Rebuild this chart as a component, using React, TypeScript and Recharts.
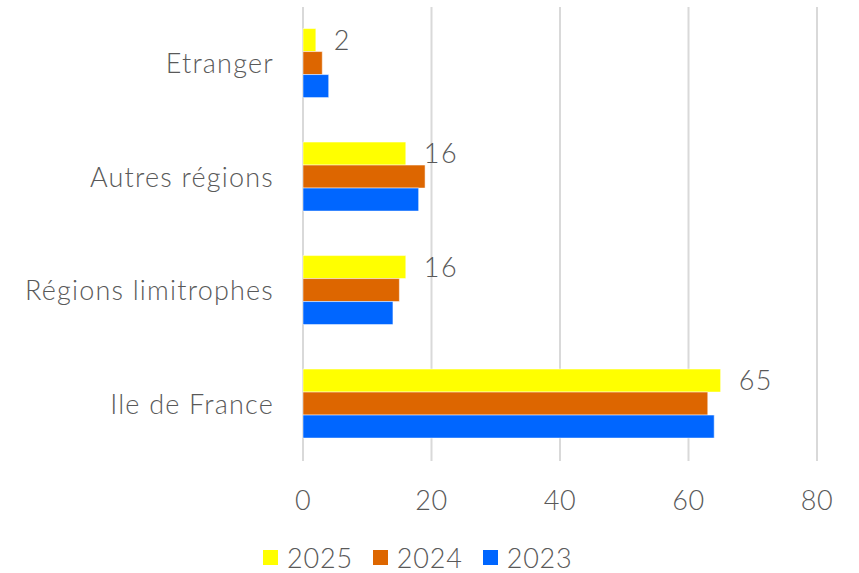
import React from 'react';
import { BarChart, Bar, XAxis, YAxis, CartesianGrid, Legend, LabelList } from 'recharts';

const categories = ['Etranger', 'Autres régions', 'Régions limitrophes', 'Ile de France'];
const values2025 = [2, 16, 16, 65];
const values2024 = [3, 19, 15, 63];
const values2023 = [4, 18, 14, 64];
const xTicks = [0, 20, 40, 60, 80];

const seriesInfo = [
  { key: 'y2025', name: '2025', color: '#FFFF00' },
  { key: 'y2024', name: '2024', color: '#DD6600' },
  { key: 'y2023', name: '2023', color: '#0066FF' },
];

const data = categories.map((cat, i) => ({
  cat,
  y2025: values2025[i],
  y2024: values2024[i],
  y2023: values2023[i],
}));

const FONT = 'Lato, "Open Sans", sans-serif';
const TEXT = '#595959';

function LegendBox() {
  return (
    <div style={{ display: 'flex', justifyContent: 'flex-start', alignItems: 'center', fontFamily: FONT, fontWeight: 300, fontSize: 27, color: TEXT, letterSpacing: 0.8, paddingLeft: 263, height: 32 }}>
      {seriesInfo.map((s) => (
        <div key={s.key} style={{ display: 'flex', alignItems: 'center', marginRight: 20 }}>
          <span style={{ width: 15, height: 15, background: s.color, display: 'inline-block', marginRight: 9 }} />
          <span>{s.name}</span>
        </div>
      ))}
    </div>
  );
}

export default function App() {
  return (
    <div style={{ position: 'absolute', left: 0, top: 0, width: 859, height: 573, background: '#fff' }}>
      <BarChart
        width={859}
        height={573}
        data={data}
        layout="vertical"
        margin={{ top: 7, right: 42, left: 0, bottom: 0 }}
        barCategoryGap="19%"
        barGap={0}
      >
        <CartesianGrid horizontal={false} stroke="#d9d9d9" strokeWidth={2} />
        <XAxis
          type="number"
          domain={[0, 80]}
          ticks={xTicks}
          axisLine={false}
          tickLine={false}
          tickMargin={24}
          height={80}
          tick={{ fontSize: 27, fill: TEXT, fontFamily: FONT, fontWeight: 300, letterSpacing: 0.5 }}
        />
        <YAxis
          type="category"
          dataKey="cat"
          width={303}
          axisLine={false}
          tickLine={false}
          tickMargin={23}
          tick={{ fontSize: 27, fill: TEXT, fontFamily: FONT, fontWeight: 300, letterSpacing: 1.2 }}
        />
        <Legend verticalAlign="bottom" content={() => <LegendBox />} wrapperStyle={{ left: 0, width: 859, bottom: 0 }} />
        {seriesInfo.map((s) => (
          <Bar key={s.key} dataKey={s.key} name={s.name} fill={s.color} stroke="rgba(255,255,255,0.5)" strokeWidth={1} isAnimationActive={false}>
            {s.key === 'y2025' && (
              <LabelList dataKey={s.key} position="right" offset={18} style={{ fontSize: 27, fill: TEXT, fontFamily: FONT, fontWeight: 300, letterSpacing: 1.5 }} />
            )}
          </Bar>
        ))}
      </BarChart>
    </div>
  );
}
